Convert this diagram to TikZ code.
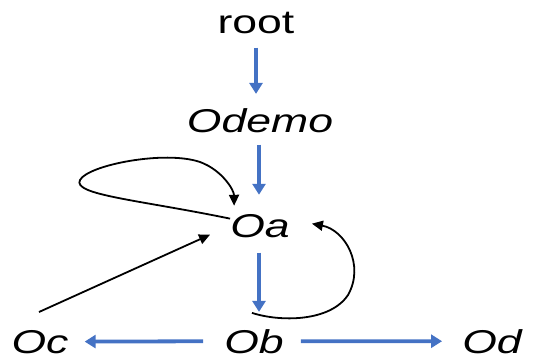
\documentclass[tikz,border=0pt]{standalone}
\usepackage{fontspec}
\setmainfont{Liberation Sans}[FakeStretch=1.35]
\usetikzlibrary{arrows.meta,calc}
\definecolor{flowblue}{HTML}{4472C4}
\begin{document}
\begin{tikzpicture}[x=1pt,y=-1pt,
  lbl/.style={inner sep=0pt,anchor=base,font=\fontsize{33}{40}\selectfont},
  olbl/.style={lbl,font=\fontsize{33}{40}\selectfont\itshape},
  flow/.style={draw=flowblue,line width=3.8pt,-{Triangle[length=11pt,width=13pt]}},
  link/.style={draw=black,line width=1.8pt,-{Triangle[length=11pt,width=10pt]}}]
\useasboundingbox (0,0) rectangle (538,360);

% labels
\node[lbl]  (root)  at (256,33)  {root};
\node[olbl] (Odemo) at (260,132) {Odemo};
\node[olbl] (Oa)    at (260,237) {Oa};
\node[olbl] (Ob)    at (254,353) {Ob};
\node[olbl] (Oc)    at (40,353)  {Oc};
\node[olbl] (Od)    at (492,353) {Od};

% main blue flow
\draw[flow,shorten <=14pt,shorten >=14pt] (root.south) -- (root.south |- Odemo.north);
\draw[flow,shorten <=12pt,shorten >=19pt] ([xshift=-1pt]Odemo.south) -- ([xshift=-1pt]Odemo.south |- Oa.north);
\draw[flow,shorten <=15pt,shorten >=17pt] ([xshift=-1pt]Oa.south) -- ([xshift=-1pt]Oa.south |- Ob.north);
\draw[flow,shorten <=21pt,shorten >=16pt] (Ob.west) -- (Oc.east);
\draw[flow,shorten <=17pt,shorten >=20pt] (Ob.east) -- (Od.west);

% black links
\coordinate (cstart) at (39,312);
\draw[link,shorten >=22pt] (cstart) -- (Oa.west);

\draw[link] ([yshift=7pt]Oa.west)
  .. controls (140,200) and (72,195) .. (80,180)
  .. controls (88,165) and (165,150) .. (200,162)
  .. controls (222,170) and (234,190) .. ([xshift=4pt,yshift=8pt]Oa.north west);

\draw[link] ([xshift=-2pt,yshift=16pt]Ob.north)
  .. controls (280,322) and (330,322) .. (348,295)
  .. controls (365,265) and (345,230) .. ([xshift=22pt,yshift=2pt]Oa.east);
\end{tikzpicture}
\end{document}
